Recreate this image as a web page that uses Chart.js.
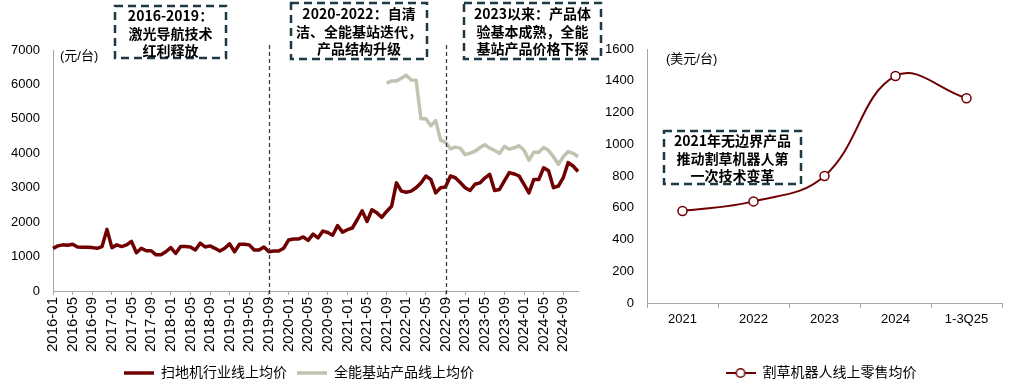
<!DOCTYPE html>
<html>
<head>
<meta charset="utf-8">
<script src="https://cdn.jsdelivr.net/npm/chart.js@4.4.1/dist/chart.umd.min.js"></script>
<style>
  html, body { margin: 0; padding: 0; background: #fff; }
  #wrap { position: relative; width: 1015px; height: 392px; overflow: hidden; }
  #c1 { position: absolute; left: 0; top: 0; }
  #c2 { position: absolute; left: 600px; top: 0; }
</style>
</head>
<body>
<div id="wrap">
  <canvas id="c1" width="605" height="392"></canvas>
  <canvas id="c2" width="415" height="392"></canvas>
</div>
<script>
const RED = '#700000'
const GRAY = '#c2c2b0'
const AXIS = '#a6a6a6'

// left: monthly, 2016-01 .. 2024-12
let months = []
for (let y = 2016; y <= 2024; y++) {
    for (let m = 1; m <= 12; m++) months.push(y + '-' + (m < 10 ? '0' + m : m))
}

const sweeperAvg = [
    1240, 1310, 1340, 1330, 1360, 1280, 1270, 1270, 1260, 1240, 1290, 1790,
    1260, 1340, 1290, 1340, 1440, 1110, 1240, 1170, 1170, 1050, 1050, 1140,
    1260, 1090, 1290, 1290, 1280, 1190, 1390, 1280, 1310, 1240, 1160, 1240,
    1370, 1140, 1360, 1360, 1340, 1190, 1190, 1280, 1140, 1160, 1160, 1240,
    1480, 1510, 1510, 1570, 1470, 1650, 1540, 1740, 1700, 1620, 1900, 1710,
    1780, 1830, 2070, 2330, 2020, 2360, 2270, 2140, 2310, 2460, 3140, 2900,
    2870, 2900, 3000, 3140, 3340, 3240, 2850, 3000, 3020, 3340, 3290, 3150,
    3000, 2920, 3100, 3140, 3280, 3390, 2920, 2950, 3200, 3440, 3400, 3340,
    3100, 2850, 3240, 3240, 3580, 3490, 3000, 3050, 3290, 3730, 3630, 3470
]

// full-function base station products, from 2021-09
const stationStart = '2021-09'
const stationAvg = [
    6040, 6100, 6100, 6180, 6270, 6130, 6120, 5000, 5000, 4800,
    4950, 4380, 4320, 4130, 4180, 4150, 3960, 4000, 4060, 4160,
    4250, 4150, 4080, 4000, 4200, 4120, 4160, 4220, 4090, 3800,
    4030, 4030, 4170, 4080, 3900, 3680, 3900, 4050, 4000, 3900
]

const phaseBreaks = ['2019-09', '2022-09']
const phaseNotes = [
    ['2016-2019：', '激光导航技术', '红利释放'],
    ['2020-2022：自清', '洁、全能基站迭代，', '产品结构升级'],
    ['2023以来：产品体', '验基本成熟，全能', '基站产品价格下探']
]

// right: lawn mower robots
const mowerYears = ['2021', '2022', '2023', '2024', '1-3Q25']
const mowerAvg = [580, 640, 800, 1430, 1290]
const mowerNote = ['2021年无边界产品', '推动割草机器人第', '一次技术变革']

let stationData = months.map(() => null)
let s0 = months.indexOf(stationStart)
stationAvg.forEach((v, i) => { stationData[s0 + i] = v })

Chart.defaults.font.family = '"Liberation Sans", Arial, "Noto Sans CJK SC", sans-serif'
Chart.defaults.color = '#000'

const notesPlugin = {
    id: 'notes',
    afterLayout(chart, args, opts) {
        // nudge the legend sideways to sit under the plot like the original
        if (opts.legendShift && chart.legend) {
            chart.legend.left += opts.legendShift
            chart.legend.right += opts.legendShift
        }
    },
    afterDraw(chart, args, opts) {
        let ctx = chart.ctx
        ctx.save()
        let xs = chart.scales.x
        ;(opts.breaks || []).forEach(lbl => {
            let px = Math.round(xs.getPixelForValue(xs.getLabels().indexOf(lbl))) + 0.5
            ctx.strokeStyle = '#3c3c3c'
            ctx.lineWidth = 1.3
            ctx.setLineDash([4, 3])
            ctx.beginPath()
            ctx.moveTo(px, 45)
            ctx.lineTo(px, 300)
            ctx.stroke()
        })
        ;(opts.boxes || []).forEach(b => {
            ctx.setLineDash([8, 5])
            ctx.lineWidth = 2.5
            ctx.strokeStyle = '#1e3946'
            ctx.strokeRect(b.x, b.y, b.w, b.h)
            ctx.fillStyle = '#000'
            ctx.font = 'bold 14px "Noto Sans CJK SC", sans-serif'
            ctx.textAlign = 'center'
            ctx.textBaseline = 'middle'
            b.lines.forEach((t, k) => ctx.fillText(t, b.x + b.w / 2, b.ty + k * 17.5))
        })
        if (opts.unit) {
            ctx.setLineDash([])
            ctx.fillStyle = '#000'
            ctx.font = '13px "Liberation Sans", "Noto Sans CJK SC", sans-serif'
            ctx.textAlign = 'left'
            ctx.textBaseline = 'middle'
            ctx.fillText(opts.unit.text, opts.unit.x, opts.unit.y)
        }
        ctx.restore()
    }
}

new Chart(document.getElementById('c1'), {
    type: 'line',
    data: {
        labels: months,
        datasets: [
            {
                label: '扫地机行业线上均价', data: sweeperAvg,
                borderColor: RED, backgroundColor: RED, borderWidth: 3.5,
                pointRadius: 0, tension: 0, borderJoinStyle: 'round'
            },
            {
                label: '全能基站产品线上均价', data: stationData,
                borderColor: GRAY, backgroundColor: GRAY, borderWidth: 3.5,
                pointRadius: 0, tension: 0, borderJoinStyle: 'round'
            }
        ]
    },
    options: {
        responsive: false,
        animation: false,
        devicePixelRatio: 1,
        layout: { padding: { top: 50, right: 27, bottom: 2, left: 0 } },
        scales: {
            x: {
                offset: false,
                grid: {
                    drawOnChartArea: false, tickLength: 4,
                    color: c => (c.index % 4 === 0 ? AXIS : 'rgba(0,0,0,0)')
                },
                border: { color: AXIS },
                ticks: {
                    autoSkip: false, maxRotation: 90, minRotation: 90, padding: 2,
                    font: { size: 15 },
                    callback: (v, i) => (i % 4 === 0 ? months[i] : '')
                },
                afterFit: s => { s.height = 65 }
            },
            y: {
                min: 0, max: 7000,
                ticks: { stepSize: 1000, padding: 13, font: { size: 13 }, callback: v => String(v) },
                grid: { display: false, drawTicks: false },
                border: { color: AXIS },
                afterFit: s => { s.width = 53 }
            }
        },
        plugins: {
            legend: {
                position: 'bottom',
                labels: { usePointStyle: true, pointStyle: 'line', pointStyleWidth: 30, font: { size: 14 }, padding: 10 }
            },
            tooltip: { enabled: false },
            notes: {
                legendShift: 10,
                breaks: phaseBreaks,
                unit: { text: '(元/台)', x: 60, y: 56 },
                boxes: [
                    { lines: phaseNotes[0], x: 115, y: 6, w: 111, h: 52, ty: 16 },
                    { lines: phaseNotes[1], x: 291, y: 3, w: 136, h: 56, ty: 14 },
                    { lines: phaseNotes[2], x: 464, y: 3, w: 137, h: 56, ty: 14 }
                ]
            }
        }
    },
    plugins: [notesPlugin]
})

// legend marker: line with hollow circle
let mk = document.createElement('canvas')
mk.width = 30
mk.height = 12
let mctx = mk.getContext('2d')
mctx.strokeStyle = RED
mctx.lineWidth = 2
mctx.beginPath(); mctx.moveTo(0, 6); mctx.lineTo(30, 6); mctx.stroke()
mctx.fillStyle = '#fff'
mctx.lineWidth = 1.5
mctx.beginPath(); mctx.arc(15, 6, 4.3, 0, Math.PI * 2); mctx.fill(); mctx.stroke()

new Chart(document.getElementById('c2'), {
    type: 'line',
    data: {
        labels: mowerYears,
        datasets: [{
            label: '割草机器人线上零售均价', data: mowerAvg,
            borderColor: RED, backgroundColor: '#fff', borderWidth: 2,
            tension: 0.4, pointRadius: 4.5,
            pointBackgroundColor: '#fff', pointBorderColor: RED, pointBorderWidth: 1.5
        }]
    },
    options: {
        responsive: false,
        animation: false,
        devicePixelRatio: 1,
        layout: { padding: { top: 49, right: 13, bottom: 2, left: 0 } },
        scales: {
            x: {
                offset: true,
                grid: { offset: true, drawOnChartArea: false, tickLength: 5, color: AXIS },
                border: { color: AXIS },
                ticks: { font: { size: 13 }, padding: 4, maxRotation: 0 },
                afterFit: s => { s.height = 53 }
            },
            y: {
                min: 0, max: 1600,
                ticks: { stepSize: 200, padding: 13, font: { size: 13 }, callback: v => String(v) },
                grid: { display: false, drawTicks: false },
                border: { color: AXIS },
                afterFit: s => { s.width = 47 }
            }
        },
        plugins: {
            legend: {
                position: 'bottom',
                labels: { usePointStyle: true, pointStyle: mk, pointStyleWidth: 30, font: { size: 14 }, padding: 10 }
            },
            tooltip: { enabled: false },
            notes: {
                legendShift: 20,
                unit: { text: '(美元/台)', x: 66, y: 59 },
                boxes: [{ lines: mowerNote, x: 64, y: 131, w: 137, h: 53, ty: 141 }]
            }
        }
    },
    plugins: [notesPlugin]
})
</script>
</body>
</html>
